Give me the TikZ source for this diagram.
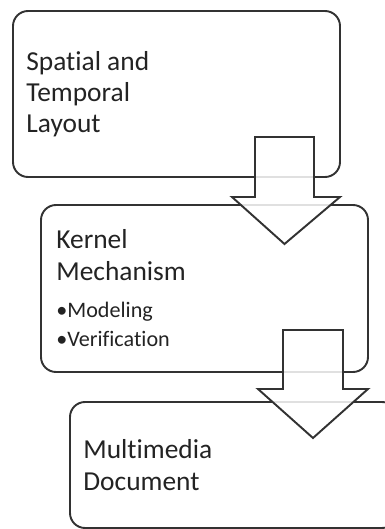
\documentclass[tikz,border=0pt]{standalone}
\usepackage{fontspec}
\setmainfont{Carlito}[Ligatures=NoCommon]
\usepackage{tikz}
\usetikzlibrary{positioning, calc}
\definecolor{edgegray}{RGB}{50,50,50}
\definecolor{textgray}{RGB}{35,35,35}

\begin{document}
\begin{tikzpicture}[
  stage/.style={rectangle, draw=edgegray, line width=1.1pt, rounded corners=0.3cm, minimum width=6.54cm, inner sep=0pt},
  title/.style={anchor=base west, inner sep=0pt, text=textgray, font=\fontsize{15.6}{18.7}\selectfont},
  item/.style={anchor=base west, inner sep=0pt, text=textgray, font=\fontsize{12.6}{15.1}\selectfont},
  blockarrow/.style={draw=edgegray, line width=1.1pt, fill=white, fill opacity=0.85, line join=miter}
]
  \clip (0,0) rectangle (7.70,10.58);

  \node[stage, minimum height=3.32cm] (layout) at (3.53,8.70) {};
  \node[title] (layout1) at (0.52,9.18) {Spatial and};
  \node[title] (layout2) at (0.52,8.56) {Temporal};
  \node[title] (layout3) at (0.52,7.94) {Layout};

  \node[stage, minimum height=3.34cm] (kernel) at (4.09,4.81) {};
  \node[title] (kernel1) at (1.12,5.62) {Kernel};
  \node[title] (kernel2) at (1.12,4.98) {Mechanism};
  \node[item] (modeling) at (1.12,4.22) {•Modeling};
  \node[item] (verification) at (1.12,3.66) {•Verification};

  \node[stage, minimum height=2.52cm] (media) at (4.67,1.28) {};
  \node[title] (media1) at (1.66,1.42) {Multimedia};
  \node[title] (media2) at (1.66,0.78) {Document};

  % block arrows between the stages
  \draw[blockarrow] (5.10,7.84) -- (6.28,7.84) -- (6.28,6.64) -- (6.80,6.64)
    -- (5.69,5.70) -- (4.64,6.64) -- (5.10,6.64) -- cycle;
  \draw[blockarrow] (5.66,3.98) -- (6.86,3.98) -- (6.86,2.80) -- (7.36,2.80)
    -- (6.26,1.82) -- (5.16,2.80) -- (5.66,2.80) -- cycle;
\end{tikzpicture}
\end{document}
